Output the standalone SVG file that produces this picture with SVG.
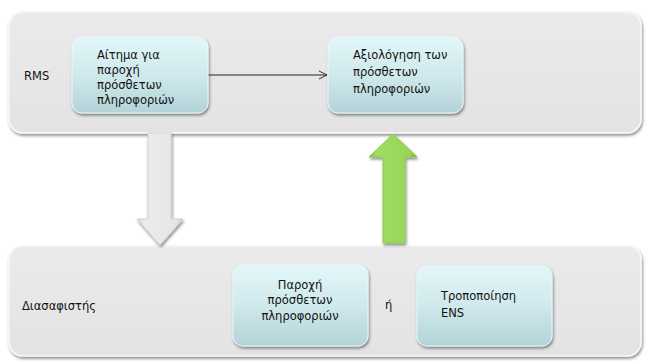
<svg xmlns="http://www.w3.org/2000/svg" width="646" height="364" viewBox="0 0 646 364">
<defs>
<linearGradient id="gBox" x1="0" y1="0" x2="0" y2="1">
<stop offset="0" stop-color="#e3f7f9"/>
<stop offset="0.5" stop-color="#cfe9ec"/>
<stop offset="1" stop-color="#b3d3d8"/>
</linearGradient>
<linearGradient id="gCont" x1="0" y1="0" x2="0" y2="1">
<stop offset="0" stop-color="#ebebeb"/>
<stop offset="1" stop-color="#e3e3e3"/>
</linearGradient>
<linearGradient id="gGray" x1="0" y1="0" x2="1" y2="0">
<stop offset="0" stop-color="#cfcfcf"/>
<stop offset="0.15" stop-color="#ececec"/>
<stop offset="0.85" stop-color="#e6e6e6"/>
<stop offset="1" stop-color="#c8c8c8"/>
</linearGradient>
<linearGradient id="gGreen" x1="0" y1="0" x2="1" y2="0">
<stop offset="0" stop-color="#7fc04a"/>
<stop offset="0.15" stop-color="#9fdc60"/>
<stop offset="0.85" stop-color="#98d658"/>
<stop offset="1" stop-color="#74b340"/>
</linearGradient>
<filter id="sh" x="-10%" y="-10%" width="130%" height="140%">
<feGaussianBlur in="SourceAlpha" stdDeviation="1.5"/>
<feOffset dx="1" dy="2" result="b"/>
<feComponentTransfer><feFuncA type="linear" slope="0.45"/></feComponentTransfer>
<feMerge><feMergeNode/><feMergeNode in="SourceGraphic"/></feMerge>
</filter>
<marker id="open" markerWidth="10" markerHeight="10" refX="9" refY="5" orient="auto" markerUnits="userSpaceOnUse">
<path d="M1,1 L9,5 L1,9" fill="none" stroke="#333" stroke-width="1"/>
</marker>
</defs>
<style>
.cont{fill:url(#gCont);stroke:#f8f8f8;stroke-width:1.5;filter:url(#sh)}
.box{fill:url(#gBox);stroke:#e8f8fa;stroke-width:1;filter:url(#sh)}
text{font-family:"DejaVu Sans","Liberation Sans",sans-serif;font-size:11.5px;fill:#111}
.c{text-anchor:middle}
</style>
<rect width="646" height="364" fill="#ffffff"/>
<g id="rms-lane">
<rect class="cont" x="9" y="12" width="632" height="121" rx="14"/>
<text x="24" y="80">RMS</text>
</g>
<g id="declarant-lane">
<rect class="cont" x="9" y="246" width="632" height="110" rx="14"/>
<text x="22" y="310">Διασαφιστής</text>
</g>
<g id="connectors">
<line x1="208" y1="75" x2="327" y2="75" stroke="#222" stroke-width="1" marker-end="url(#open)"/>
<path d="M148,133 L171,133 L171,219 L183,219 L160,245 L137,219 L148,219 Z" fill="url(#gGray)" stroke="#d4d4d4" stroke-width="1" filter="url(#sh)"/>
<path d="M393,134 L417,157 L405,157 L405,243 L383,243 L383,157 L369,157 Z" fill="url(#gGreen)" stroke="#8cc850" stroke-width="1" filter="url(#sh)"/>
</g>
<g id="request">
<rect class="box" x="72" y="37" width="136" height="76" rx="10"/>
<text x="97" y="59">Αίτημα για</text>
<text x="97" y="74">παροχή</text>
<text x="97" y="89">πρόσθετων</text>
<text x="97" y="104">πληροφοριών</text>
</g>
<g id="evaluation">
<rect class="box" x="328" y="37" width="135" height="76" rx="10"/>
<text x="353" y="59">Αξιολόγηση των</text>
<text x="353" y="76">πρόσθετων</text>
<text x="353" y="93">πληροφοριών</text>
</g>
<g id="provide">
<rect class="box" x="233" y="265" width="135" height="81" rx="10"/>
<text class="c" x="300" y="289">Παροχή</text>
<text class="c" x="300" y="304">πρόσθετων</text>
<text class="c" x="300" y="320">πληροφοριών</text>
</g>
<text x="385" y="309">ή</text>
<g id="amend">
<rect class="box" x="417" y="266" width="135" height="80" rx="10"/>
<text x="441" y="300">Τροποποίηση</text>
<text x="441" y="317">ENS</text>
</g>
</svg>
